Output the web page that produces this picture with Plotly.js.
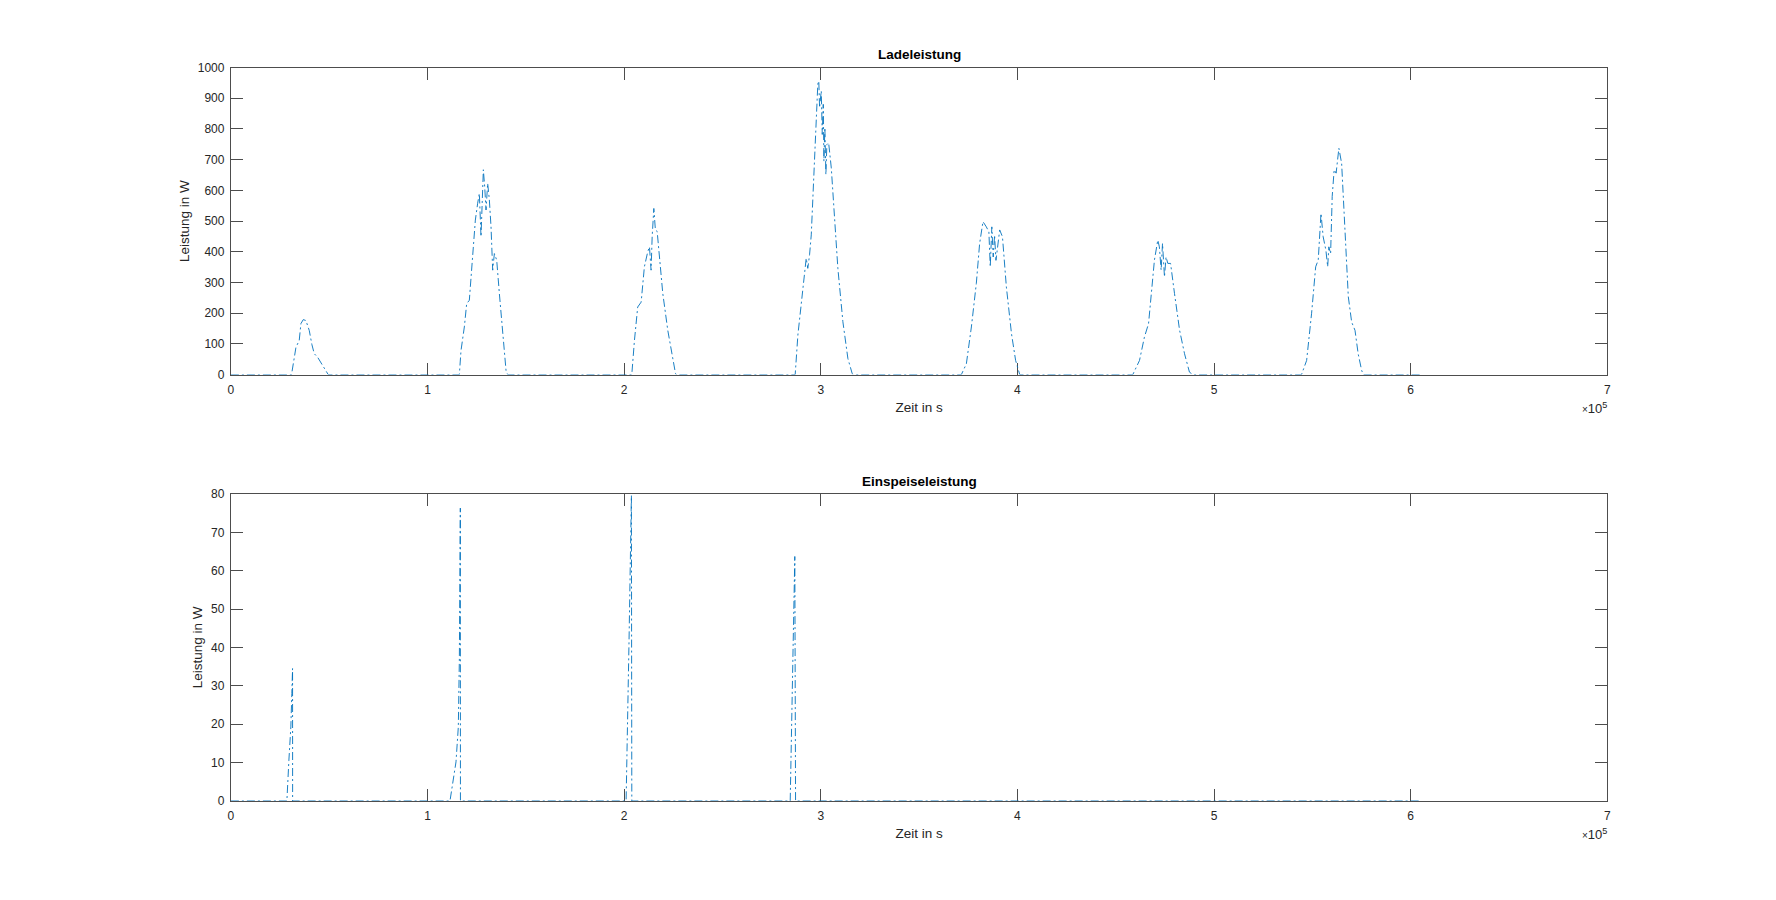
<!DOCTYPE html>
<html>
<head>
<meta charset="utf-8">
<script src="https://cdn.plot.ly/plotly-3.0.1.min.js"></script>
<style>
html,body{margin:0;padding:0;background:#fff;}
#chart{width:1776px;height:900px;}
</style>
</head>
<body>
<div id="chart"></div>
<script>
// ---- Data (time in s, power in W) ----
const timeLade = [
  0, 30850, 33100, 34760, 35620, 36800, 38160, 39850, 41200, 42400, 44070, 46640, 48350, 49500,
  116200, 117030, 118730, 119920, 121270, 122970, 124330, 125510, 126360, 127210, 127720, 128400,
  129080, 129760, 130600, 131450, 132300, 133150, 134000, 135190, 136540, 138240, 139940, 140780,
  203890, 205240, 206900, 208650, 210300, 212000, 212880, 213700, 214250, 215100, 215900, 216800,
  218000, 219660, 222200, 224700, 226100, 226500,
  287000, 288360, 290080, 291760, 292600, 293400, 294300, 295170, 296500, 297700, 298500, 299000,
  299400, 300250, 300760, 301270, 301600, 302100, 302600, 303100, 304000, 305350, 307000, 308700,
  311250, 313800, 316000, 316500,
  371500, 374050, 376600, 379100, 380800, 382500, 384200, 385500, 386200, 387000, 387700, 388400,
  389100, 391000, 392400, 394400, 397000, 399100, 401200,
  458700, 462100, 464600, 466700, 468400, 469700, 471400, 472200, 473100, 473800, 474800, 475600,
  476500, 477900, 479900, 482500, 485000, 487500, 489200,
  544500, 547100, 549600, 551700, 553000, 554400, 555500, 556900, 557800, 558400, 559300, 560100,
  560600, 561100, 562100, 563500, 564900, 566600, 568300, 570000, 571700, 573300, 575100, 576000,
  604800
];
const powerLade = [
  0, 0, 89, 111, 166, 179, 176, 144, 98, 68, 57, 29, 8, 0,
  0, 78, 155, 231, 242, 394, 503, 558, 590, 449, 569, 667,
  612, 536, 623, 569, 481, 340, 394, 373, 264, 133, 13, 0,
  0, 111, 220, 236, 351, 400, 416, 340, 449, 541, 471, 466,
  373, 264, 144, 46, 4, 0,
  0, 129, 237, 325, 379, 346, 390, 455, 673, 837, 946, 956,
  869, 924, 782, 880, 695, 804, 651, 749, 755, 673, 510, 346,
  172, 52, 3, 0,
  0, 35, 155, 296, 427, 498, 481, 465, 351, 481, 383, 454,
  372, 471, 449, 285, 133, 46, 0,
  0, 46, 122, 166, 285, 373, 438, 416, 340, 427, 318, 383,
  362, 362, 264, 144, 68, 8, 0,
  0, 46, 198, 351, 373, 525, 449, 405, 351, 416, 394, 580,
  612, 667, 656, 737, 688, 471, 253, 171, 144, 68, 13, 0,
  0
];
const timeEinspeise = [
  0, 28480, 29500, 30500, 31000, 31370, 31400,
  111430, 114490, 115670, 116200, 116500, 116690, 116750,
  201000, 202500, 203700, 203900,
  284460, 286800, 287180,
  604800
];
const powerEinspeise = [
  0, 0, 10.6, 19.3, 28, 34.5, 0,
  0, 10.2, 19.3, 37, 63, 76.3, 0,
  0, 42, 79.6, 0,
  0, 63.7, 0,
  0
];
const xTickVals = [0, 100000, 200000, 300000, 400000, 500000, 600000, 700000];
const xTickText = ['0', '1', '2', '3', '4', '5', '6', '7'];
const yTickValsTop = [0, 100, 200, 300, 400, 500, 600, 700, 800, 900, 1000];
const yTickValsBottom = [0, 10, 20, 30, 40, 50, 60, 70, 80];
const titles = ['Ladeleistung', 'Einspeiseleistung'];
const xLabel = 'Zeit in s';
const yLabel = 'Leistung in W';
const exponentLabel = '<span style="font-size:10px">×</span>10<sup>5</sup>';

// ---- Styling ----
const FONT = '"Liberation Sans", Arial, Helvetica, sans-serif';
const TXT = '#262626';
const AXC = '#4d4d4d';
const lineStyle = {color: '#0072BD', width: 0.9, dash: '8px,3px,2px,3px'};

function xAxis(anchor) {
  return {
    domain: [0.13, 0.905], anchor: anchor, range: [0, 700000],
    tickvals: xTickVals, ticktext: xTickText,
    ticks: 'inside', ticklen: 12, tickwidth: 1, tickcolor: AXC,
    showline: true, linecolor: AXC, linewidth: 1, mirror: 'ticks',
    showgrid: false, zeroline: false, automargin: false, layer: 'below traces',
    tickfont: {family: FONT, size: 12, color: TXT},
    ticklabelstandoff: 4,
    title: {text: xLabel, font: {family: FONT, size: 13.5, color: TXT}, standoff: 6}
  };
}
function yAxis(anchor, domain, range, tickvals) {
  return {
    domain: domain, anchor: anchor, range: range, tickvals: tickvals,
    ticks: 'inside', ticklen: 12, tickwidth: 1, tickcolor: AXC,
    showline: true, linecolor: AXC, linewidth: 1, mirror: 'ticks',
    showgrid: false, zeroline: false, automargin: false, layer: 'below traces',
    tickfont: {family: FONT, size: 12, color: TXT},
    ticklabelstandoff: 3,
    title: {text: yLabel, font: {family: FONT, size: 13.5, color: TXT}, standoff: 5}
  };
}

const traces = [
  {x: timeLade, y: powerLade, type: 'scatter', mode: 'lines', line: lineStyle,
   xaxis: 'x', yaxis: 'y', hoverinfo: 'x+y', showlegend: false},
  {x: timeEinspeise, y: powerEinspeise, type: 'scatter', mode: 'lines', line: lineStyle,
   xaxis: 'x2', yaxis: 'y2', hoverinfo: 'x+y', showlegend: false}
];

const layout = {
  width: 1776, height: 900,
  margin: {l: 0, r: 0, t: 0, b: 0},
  paper_bgcolor: '#ffffff', plot_bgcolor: '#ffffff',
  font: {family: FONT, color: TXT},
  showlegend: false,
  xaxis: xAxis('y'),
  yaxis: yAxis('x', [0.5838, 0.925], [0, 1000], yTickValsTop),
  xaxis2: xAxis('y2'),
  yaxis2: yAxis('x2', [0.11, 0.4512], [0, 80], yTickValsBottom),
  annotations: [
    {text: '<b>' + titles[0] + '</b>', xref: 'x domain', yref: 'y domain', x: 0.5, y: 1,
     xanchor: 'center', yanchor: 'bottom', yshift: 3, showarrow: false,
     font: {family: FONT, size: 13.5, color: '#000'}},
    {text: '<b>' + titles[1] + '</b>', xref: 'x2 domain', yref: 'y2 domain', x: 0.5, y: 1,
     xanchor: 'center', yanchor: 'bottom', yshift: 3, showarrow: false,
     font: {family: FONT, size: 13.5, color: '#000'}},
    {text: exponentLabel, xref: 'x domain', yref: 'y domain', x: 1, y: 0,
     xanchor: 'right', yanchor: 'top', yshift: -23, xshift: 2, showarrow: false,
     font: {family: FONT, size: 13, color: TXT}},
    {text: exponentLabel, xref: 'x2 domain', yref: 'y2 domain', x: 1, y: 0,
     xanchor: 'right', yanchor: 'top', yshift: -23, xshift: 2, showarrow: false,
     font: {family: FONT, size: 13, color: TXT}}
  ]
};

Plotly.newPlot('chart', traces, layout, {displayModeBar: false});
</script>
</body>
</html>
